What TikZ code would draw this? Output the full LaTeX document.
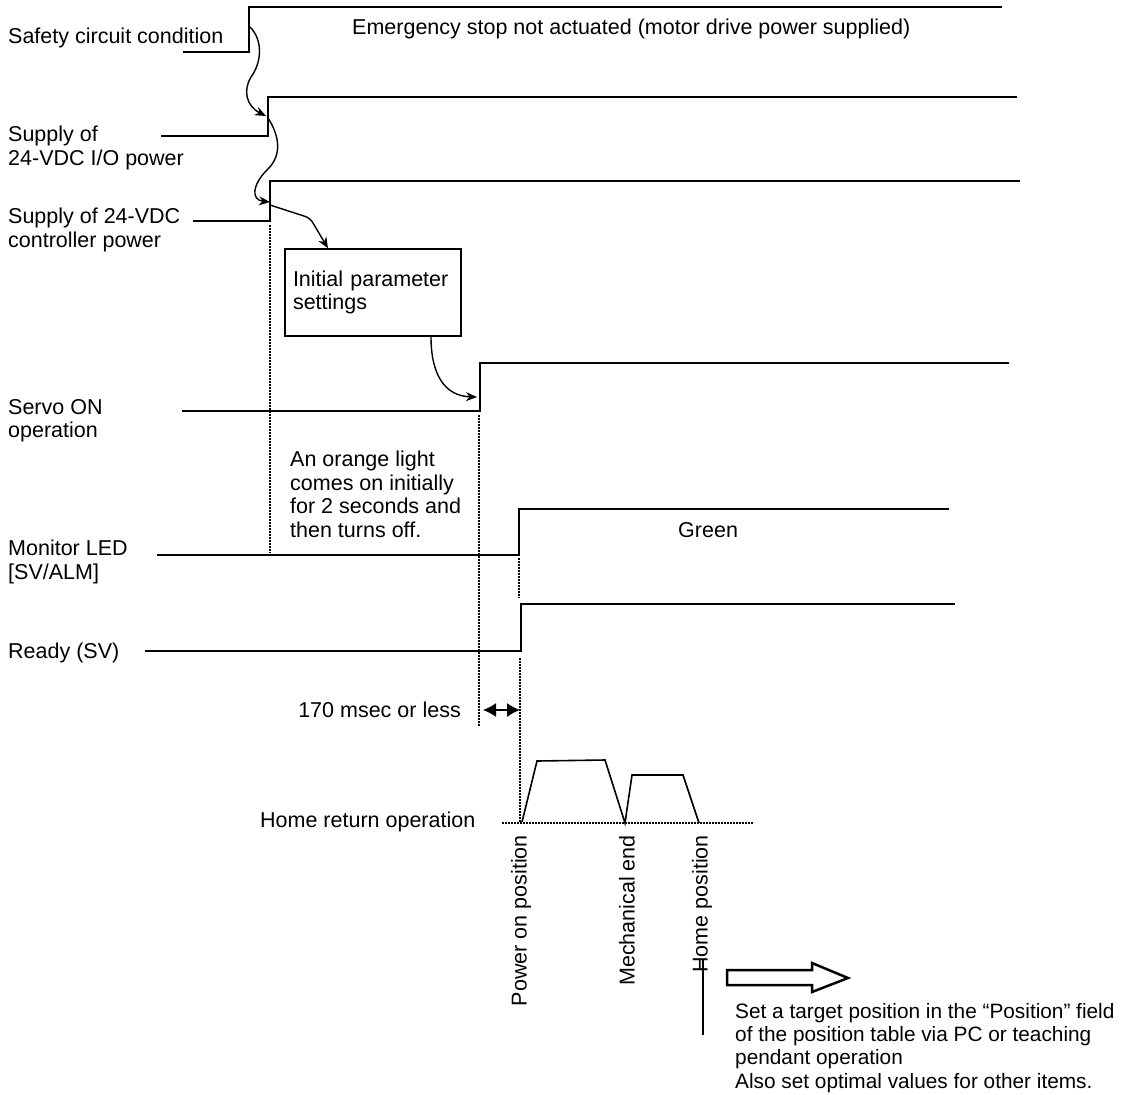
\documentclass[tikz,border=0pt]{standalone}
\usepackage{fontspec}
\setmainfont{Liberation Sans}
\usetikzlibrary{arrows.meta}
\begin{document}
\begin{tikzpicture}[x=1pt,y=-1pt,
  font=\fontsize{21.5}{23.5}\selectfont,
  sig/.style={line width=1.8pt},
  dots/.style={line width=1.5pt, dash pattern=on 1.5pt off 1.5pt},
  lbl/.style={anchor=north west, inner sep=0pt, align=left},
  cur/.style={line width=1.4pt, -{Stealth[length=11pt,width=9pt]}},
  vlab/.style={rotate=90, anchor=east, inner sep=0pt},
  boxst/.style={draw, line width=1.5pt, text width=160pt, minimum height=87pt, inner sep=8pt, align=left}]
\useasboundingbox (0,0) rectangle (1122,1095);

% ---- labels ----
\node[lbl] (lsafe) at (8,28) {Safety circuit condition};
\node[lbl] (lemg) at (352,19) {Emergency stop not actuated (motor drive power supplied)};
\node[lbl] (lio) at (8,126) {Supply of\\24-VDC I/O power};
\node[lbl] (lctl) at (8,208) {Supply of 24-VDC\\controller power};
\node[lbl] (lservo) at (8,399) {Servo ON\\operation};
\node[lbl] (lorange) at (290,451) {An orange light\\comes on initially\\for 2 seconds and\\then turns off.};
\node[lbl] (lgreen) at (678,522) {Green};
\node[lbl] (lled) at (8,540) {Monitor LED\\{}[SV/ALM]};
\node[lbl] (lready) at (8,643) {Ready (SV)};
\node[lbl, anchor=north east] (lmsec) at (461,702) {170 msec or less};
\node[lbl] (lhome) at (260,812) {Home return operation};
\node[lbl, font=\fontsize{20.8}{23.3}\selectfont] (lset) at (735,1003) {Set a target position in the \textquotedblleft Position\textquotedblright\ field\\of the position table via PC or teaching\\pendant operation\\Also set optimal values for other items.};

\node[boxst] (box) at (373,292.5) {Initial parameter\\settings};

% ---- signal edges ----
\coordinate (sE) at (249,52);
\coordinate (ioE) at (268,136);
\coordinate (ctE) at (270,221);
\coordinate (svE) at (480,411);
\coordinate (ledE) at (519,555);
\coordinate (rdE) at (521,651);

% ---- signals ----
\draw[sig] (183,52) -- (sE) -- (249,7) -- (1002,7);
\draw[sig] (161,136) -- (ioE) -- (268,97) -- (1017,97);
\draw[sig] (193,221) -- (ctE) -- (270,181) -- (1020,181);
\draw[sig] (182,411) -- (svE) -- (480,363) -- (1009,363);
\draw[sig] (157,555) -- (ledE) -- (519,509) -- (949,509);
\draw[sig] (145,651) -- (rdE) -- (521,604) -- (955,604);

% ---- dotted guides ----
\draw[dots] (270,225) -- (270,553);
\draw[dots] (479,415) -- (479,727);
\draw[dots] (519,558) -- (519,598);
\draw[dots] (520,658) -- (520,822);
\draw[dots] (502,823) -- (753,823);

% ---- cause arrows ----
\draw[cur] (250,27) .. controls (263,40) and (262,62) .. (251,77) .. controls (243,90) and (246,106) .. (266,116);
\draw[cur] (268,118) .. controls (279,135) and (283,155) .. (267,170) .. controls (252,185) and (251,200) .. (270,202);
\draw[cur, rounded corners=5pt] (270,205) -- (310,218) -- (box.north -| 328,0);
\draw[cur] (box.south -| 431,0) .. controls (431,375) and (445,396) .. (477,397);

% ---- 170 msec ----
\draw[line width=1.3pt, {Latex[length=13pt,width=14pt]}-{Latex[length=13pt,width=14pt]}] (483,710) -- (520,710);

% ---- home return profile ----
\draw[line width=1.6pt] (522,822) -- (537,761) -- (605,760) -- (625,823) -- (632,775) -- (683,775) -- (699,823);

\node[vlab] (vpow) at (521,835) {Power on position};
\node[vlab] (vmech) at (627,835) {Mechanical end};
\node[vlab] (vhome) at (702,835) {Home position};
\draw[line width=1.4pt] (703,960) -- (703,1035);

% ---- hollow arrow ----
\draw[line width=2.5pt, line join=miter] (727,970) -- (812,970) -- (812,963) -- (848,978) -- (812,992) -- (812,985) -- (727,985) -- cycle;
\end{tikzpicture}
\end{document}
